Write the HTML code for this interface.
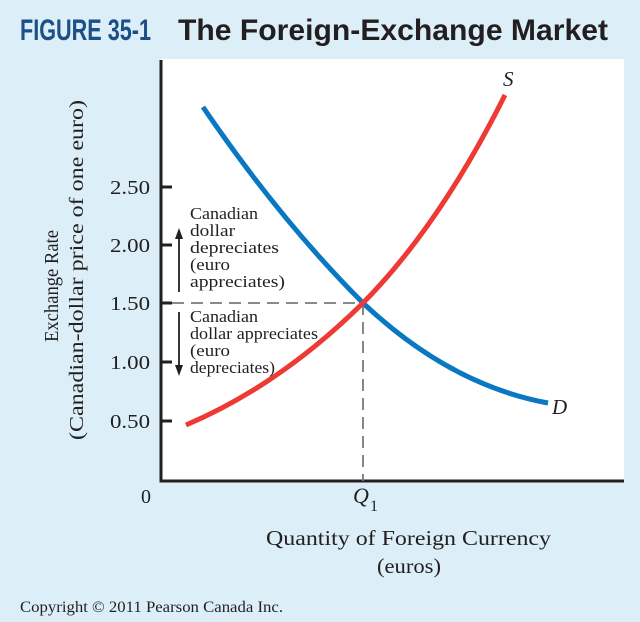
<!DOCTYPE html>
<html><head><meta charset="utf-8"><style>
html,body{margin:0;padding:0;background:#dcEff9;}
svg{display:block}
</style></head><body>
<svg width="640" height="622" viewBox="0 0 640 622" xmlns="http://www.w3.org/2000/svg">
<rect width="640" height="622" fill="#dceff9"/>
<g font-family="'Liberation Sans Narrow','Liberation Sans',sans-serif" font-weight="bold" font-size="30">
<text x="20" y="40" fill="#1b4f86" textLength="131" lengthAdjust="spacingAndGlyphs">FIGURE 35-1</text>
<text x="178" y="40" fill="#231f20" textLength="430" lengthAdjust="spacingAndGlyphs">The Foreign-Exchange Market</text>
</g>
<rect x="161" y="59" width="463" height="422" fill="#fff"/>
<g stroke="#231f20" stroke-width="3" fill="none">
<path d="M161,60 V481 H624"/>
<path d="M161,187 H172 M161,245 H172 M161,303 H172 M161,362 H172 M161,421 H172"/>
</g>
<g stroke="#7a7a7a" stroke-width="1.8" stroke-dasharray="12,7" fill="none">
<path d="M172,303 H363"/>
<path d="M363,303 V481"/>
</g>
<path d="M203,107 Q280,220 363,303 Q450,385 548,403" stroke="#0a77c2" stroke-width="5" fill="none"/>
<path d="M186,425 Q280,385 363,303 Q440,225 505,95" stroke="#ee3a34" stroke-width="5" fill="none"/>
<g font-family="'Liberation Serif',serif" fill="#231f20">
<text x="503" y="86" font-size="21" font-style="italic">S</text>
<text x="552" y="414" font-size="21" font-style="italic">D</text>
<g font-size="20">
<text x="110" y="194" textLength="40" lengthAdjust="spacingAndGlyphs">2.50</text>
<text x="110" y="252" textLength="40" lengthAdjust="spacingAndGlyphs">2.00</text>
<text x="110" y="310" textLength="40" lengthAdjust="spacingAndGlyphs">1.50</text>
<text x="110" y="369" textLength="40" lengthAdjust="spacingAndGlyphs">1.00</text>
<text x="110" y="428" textLength="40" lengthAdjust="spacingAndGlyphs">0.50</text>
</g>
<text x="151" y="503" font-size="20" text-anchor="end">0</text>
<text x="353" y="503" font-size="22" font-style="italic">Q</text><text x="370" y="511" font-size="16">1</text>
<g font-size="17">
<text x="190" y="219" textLength="68" lengthAdjust="spacingAndGlyphs">Canadian</text>
<text x="190" y="236" textLength="45" lengthAdjust="spacingAndGlyphs">dollar</text>
<text x="190" y="253" textLength="89" lengthAdjust="spacingAndGlyphs">depreciates</text>
<text x="190" y="270" textLength="40" lengthAdjust="spacingAndGlyphs">(euro</text>
<text x="190" y="287" textLength="95" lengthAdjust="spacingAndGlyphs">appreciates)</text>
<text x="190" y="322" textLength="68" lengthAdjust="spacingAndGlyphs">Canadian</text>
<text x="190" y="339" textLength="128" lengthAdjust="spacingAndGlyphs">dollar appreciates</text>
<text x="190" y="356" textLength="40" lengthAdjust="spacingAndGlyphs">(euro</text>
<text x="190" y="373" textLength="85" lengthAdjust="spacingAndGlyphs">depreciates)</text>
</g>
<g font-size="21">
<text x="266" y="545" textLength="285" lengthAdjust="spacingAndGlyphs">Quantity of Foreign Currency</text>
<text x="377" y="573" textLength="64" lengthAdjust="spacingAndGlyphs">(euros)</text>
<text transform="translate(58,342) rotate(-90)" font-size="20" textLength="112" lengthAdjust="spacingAndGlyphs">Exchange Rate</text>
<text transform="translate(83,440) rotate(-90)" font-size="20" textLength="340" lengthAdjust="spacingAndGlyphs">(Canadian-dollar price of one euro)</text>
</g>
<text x="20" y="612" font-size="16" textLength="263" lengthAdjust="spacingAndGlyphs">Copyright © 2011 Pearson Canada Inc.</text>
</g>
<g stroke="#231f20" stroke-width="1.8" fill="#231f20">
<path d="M179,292 V236"/><path d="M175,239 L179,228 L183,239 Z" stroke="none"/>
<path d="M179,312 V368"/><path d="M175,365 L179,376 L183,365 Z" stroke="none"/>
</g>
</svg>
</body></html>
